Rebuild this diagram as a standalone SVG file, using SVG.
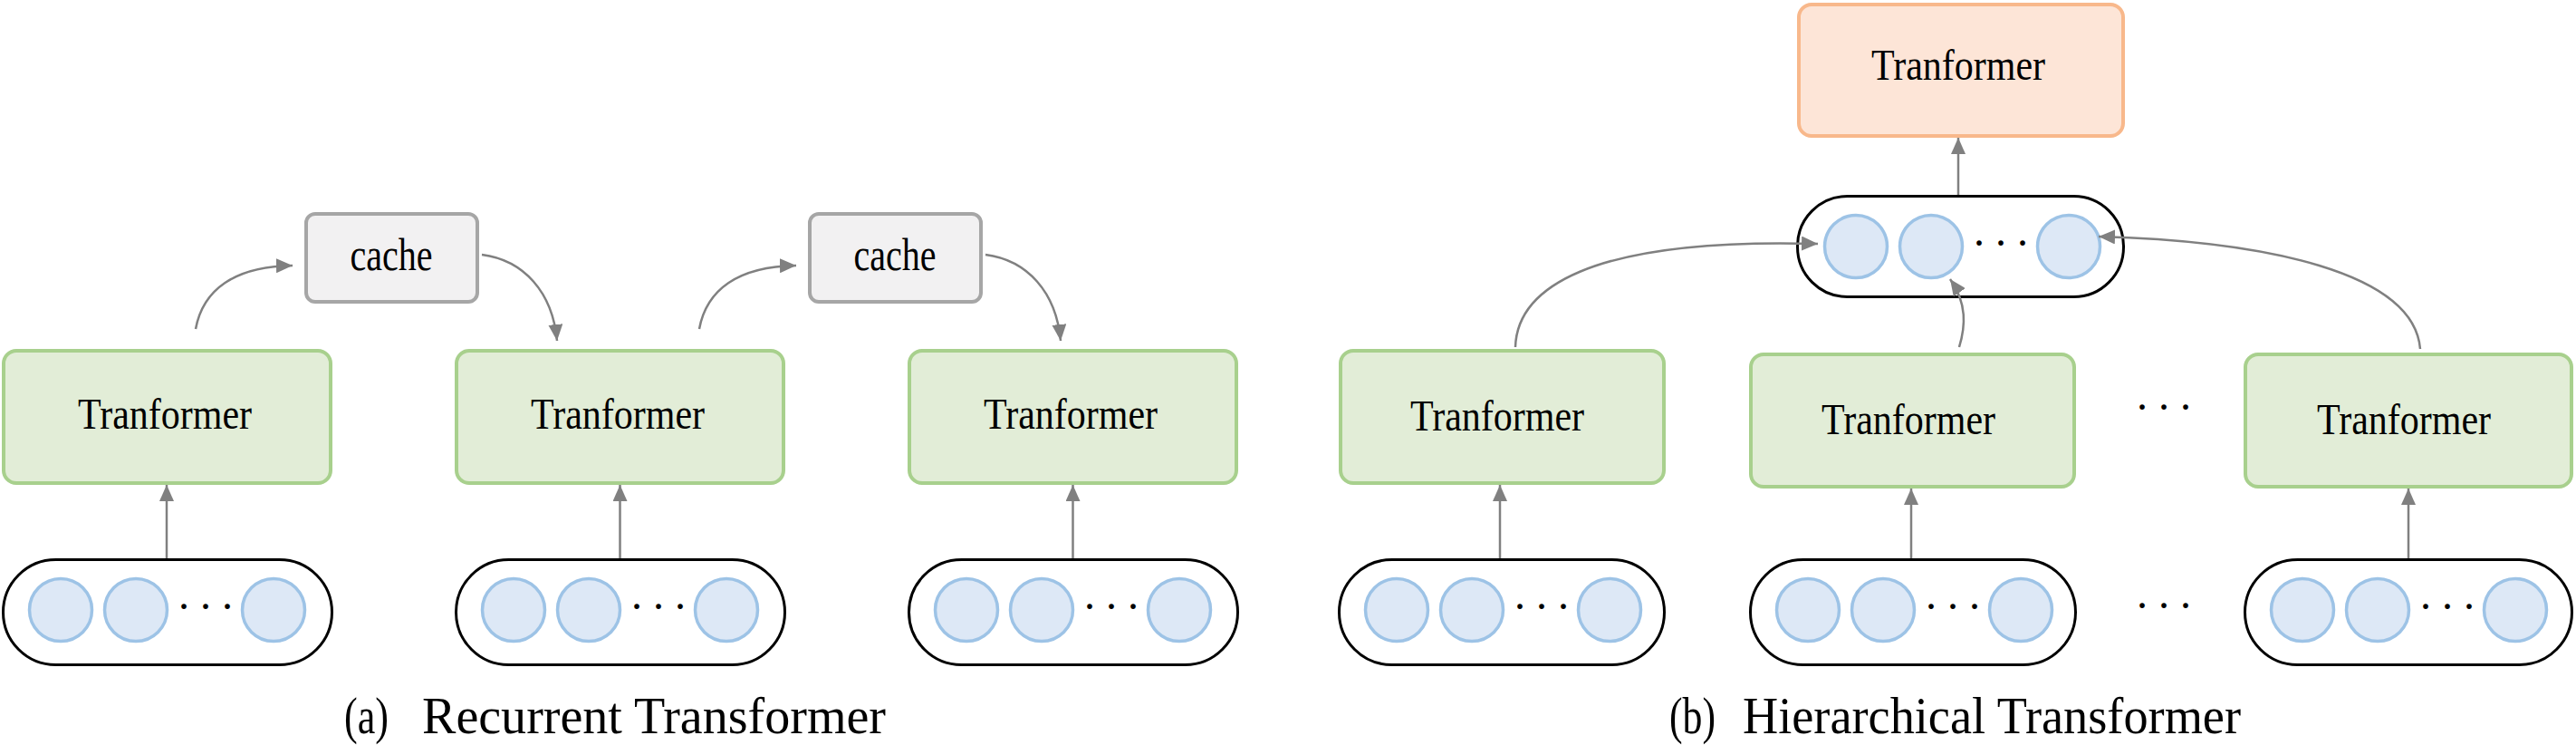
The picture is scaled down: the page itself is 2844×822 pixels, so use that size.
<svg xmlns="http://www.w3.org/2000/svg" width="2844" height="822" viewBox="0 0 2844 822">
<style>
.t{font-family:"Liberation Serif","Times New Roman",serif;fill:#000}
.tb{font-size:48px;text-anchor:middle}
.dots{font-size:48px;letter-spacing:8px}
.cap{font-size:57px}
.green{fill:#e2edd7;stroke:#a8d08d;stroke-width:4}
.orange{fill:#fde5d7;stroke:#f8b88b;stroke-width:4}
.cache{fill:#f2f1f2;stroke:#a6a6a6;stroke-width:4}
.pill{fill:#fff;stroke:#000;stroke-width:3}
.tok{fill:#dde8f6;stroke:#9dc3e6;stroke-width:3.5}
.con{fill:none;stroke:#808080;stroke-width:2.5;marker-end:url(#ah)}
</style>
<defs>
<marker id="ah" viewBox="0 0 18 16" refX="18" refY="8" markerWidth="18" markerHeight="16" markerUnits="userSpaceOnUse" orient="auto">
<path d="M0,0 L18,8 L0,16 z" fill="#808080"/>
</marker>
<g id="tokens">
<circle class="tok" cx="65" cy="57" r="34.5"/>
<circle class="tok" cx="148" cy="57" r="34.5"/>
<circle class="tok" cx="300" cy="57" r="34.5"/>
<text class="t dots" x="193" y="69">···</text>
</g>
</defs>
<rect width="2844" height="822" fill="#fff"/>

<!-- (a) Recurrent Transformer -->
<g id="a-box1"><rect class="green" x="4" y="387" width="361" height="146" rx="14"/><text class="t tb" x="182" y="473" textLength="192" lengthAdjust="spacingAndGlyphs">Tranformer</text></g>
<g id="a-box2"><rect class="green" x="504" y="387" width="361" height="146" rx="14"/><text class="t tb" x="682" y="473" textLength="192" lengthAdjust="spacingAndGlyphs">Tranformer</text></g>
<g id="a-box3"><rect class="green" x="1004" y="387" width="361" height="146" rx="14"/><text class="t tb" x="1182" y="473" textLength="192" lengthAdjust="spacingAndGlyphs">Tranformer</text></g>
<g id="a-cache1"><rect class="cache" x="338" y="236" width="189" height="97" rx="10"/><text class="t tb" x="432" y="298" textLength="91" lengthAdjust="spacingAndGlyphs" style="font-size:50px">cache</text></g>
<g id="a-cache2"><rect class="cache" x="894" y="236" width="189" height="97" rx="10"/><text class="t tb" x="988" y="298" textLength="91" lengthAdjust="spacingAndGlyphs" style="font-size:50px">cache</text></g>
<g id="a-input1"><rect class="pill" x="3.5" y="617.5" width="363" height="116" rx="58"/><use href="#tokens" x="2" y="616"/></g>
<g id="a-input2"><rect class="pill" x="503.5" y="617.5" width="363" height="116" rx="58"/><use href="#tokens" x="502" y="616"/></g>
<g id="a-input3"><rect class="pill" x="1003.5" y="617.5" width="363" height="116" rx="58"/><use href="#tokens" x="1002" y="616"/></g>

<!-- (b) Hierarchical Transformer -->
<g id="b-top"><rect class="orange" x="1986" y="5" width="358" height="145" rx="14"/><text class="t tb" x="2162" y="88" textLength="192" lengthAdjust="spacingAndGlyphs">Tranformer</text></g>
<g id="b-agg"><rect class="pill" x="1984.5" y="216.5" width="360" height="111" rx="55"/><use href="#tokens" x="1984" y="215"/></g>
<g id="b-box1"><rect class="green" x="1480" y="387" width="357" height="146" rx="14"/><text class="t tb" x="1653" y="475" textLength="192" lengthAdjust="spacingAndGlyphs">Tranformer</text></g>
<g id="b-box2"><rect class="green" x="1933" y="391" width="357" height="146" rx="14"/><text class="t tb" x="2107" y="479" textLength="192" lengthAdjust="spacingAndGlyphs">Tranformer</text></g>
<g id="b-box3"><rect class="green" x="2479" y="391" width="360" height="146" rx="14"/><text class="t tb" x="2654" y="479" textLength="192" lengthAdjust="spacingAndGlyphs">Tranformer</text></g>
<g id="b-input1"><rect class="pill" x="1478.5" y="617.5" width="359" height="116" rx="58"/><use href="#tokens" x="1477" y="616"/></g>
<g id="b-input2"><rect class="pill" x="1932.5" y="617.5" width="359" height="116" rx="58"/><use href="#tokens" x="1931" y="616"/></g>
<g id="b-input3"><rect class="pill" x="2478.5" y="617.5" width="361" height="116" rx="58"/><use href="#tokens" x="2477" y="616"/></g>
<g id="b-ellipsis"><text class="t dots" x="2357" y="465">···</text><text class="t dots" x="2357" y="684">···</text></g>

<!-- connectors -->
<g id="connectors">
<path class="con" d="M184,616 L184,535"/>
<path class="con" d="M684.5,616 L684.5,535"/>
<path class="con" d="M1184.5,616 L1184.5,535"/>
<path class="con" d="M216,363 C224,320 258,294 323,293"/>
<path class="con" d="M532,281 C578,287 610,322 615,376"/>
<path class="con" d="M772,363 C780,320 814,294 879,293"/>
<path class="con" d="M1088,281 C1134,287 1166,322 1171,376"/>
<path class="con" d="M1656,616 L1656,535"/>
<path class="con" d="M2110,616 L2110,539"/>
<path class="con" d="M2659,616 L2659,539"/>
<path class="con" d="M2162,215 L2162,152"/>
<path class="con" d="M1673,383 C1675,320 1750,262 2007,269"/>
<path class="con" d="M2163,383 C2170,360 2172,335 2153,308"/>
<path class="con" d="M2672,385 C2665,300 2500,266 2317,261"/>
</g>

<!-- captions -->
<text class="t cap" y="809"><tspan x="380" textLength="49" lengthAdjust="spacingAndGlyphs">(a)</tspan><tspan x="466" textLength="512" lengthAdjust="spacingAndGlyphs">Recurrent Transformer</tspan></text>
<text class="t cap" y="809"><tspan x="1843" textLength="51" lengthAdjust="spacingAndGlyphs">(b)</tspan><tspan x="1924" textLength="550" lengthAdjust="spacingAndGlyphs">Hierarchical Transformer</tspan></text>
</svg>
